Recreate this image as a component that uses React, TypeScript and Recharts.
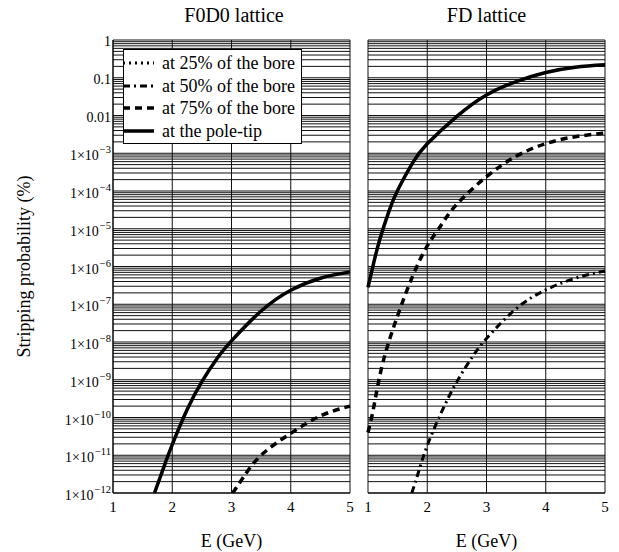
import React from 'react';
import { LineChart, Line, XAxis, YAxis, CartesianGrid } from 'recharts';

const FONT = "'Liberation Serif', 'Times New Roman', serif";

// axis ticks
const E_TICKS = [1, 2, 3, 4, 5];
const DECADES = [-12, -11, -10, -9, -8, -7, -6, -5, -4, -3, -2, -1, 0];
const MANTISSAS = [1, 2, 3, 4, 5, 6, 7, 8, 9];

// F0D0 lattice (E in GeV, stripping probability in %)
const F0D0_POLE_TIP = [
  { e: 1.7, p: 1e-12 },
  { e: 1.85, p: 4.5e-12 },
  { e: 2.0, p: 1.9e-11 },
  { e: 2.25, p: 1.6e-10 },
  { e: 2.5, p: 8.9e-10 },
  { e: 2.75, p: 3.55e-9 },
  { e: 3.0, p: 1.07e-8 },
  { e: 3.5, p: 6.6e-8 },
  { e: 4.0, p: 2.35e-7 },
  { e: 4.5, p: 4.9e-7 },
  { e: 5.0, p: 7.2e-7 },
];
const F0D0_75 = [
  { e: 3.02, p: 1e-12 },
  { e: 3.2, p: 2.6e-12 },
  { e: 3.5, p: 1.0e-11 },
  { e: 4.0, p: 3.8e-11 },
  { e: 4.5, p: 1.1e-10 },
  { e: 5.0, p: 2.0e-10 },
];

// FD lattice
const FD_POLE_TIP = [
  { e: 1.0, p: 2.8e-7 },
  { e: 1.1, p: 1.32e-6 },
  { e: 1.2, p: 5.25e-6 },
  { e: 1.35, p: 2.8e-5 },
  { e: 1.5, p: 1.05e-4 },
  { e: 1.75, p: 5.5e-4 },
  { e: 2.0, p: 1.78e-3 },
  { e: 2.5, p: 9.5e-3 },
  { e: 3.0, p: 0.035 },
  { e: 3.5, p: 0.079 },
  { e: 4.0, p: 0.138 },
  { e: 4.5, p: 0.19 },
  { e: 5.0, p: 0.22 },
];
const FD_75 = [
  { e: 1.0, p: 4.0e-11 },
  { e: 1.1, p: 2.0e-10 },
  { e: 1.25, p: 2.8e-9 },
  { e: 1.5, p: 5.0e-8 },
  { e: 1.75, p: 5.4e-7 },
  { e: 2.0, p: 3.5e-6 },
  { e: 2.25, p: 1.35e-5 },
  { e: 2.5, p: 4.5e-5 },
  { e: 3.0, p: 2.4e-4 },
  { e: 3.5, p: 8.3e-4 },
  { e: 4.0, p: 1.8e-3 },
  { e: 4.5, p: 2.75e-3 },
  { e: 5.0, p: 3.4e-3 },
];
const FD_50 = [
  { e: 1.74, p: 1e-12 },
  { e: 1.85, p: 3.5e-12 },
  { e: 2.0, p: 1.8e-11 },
  { e: 2.25, p: 1.5e-10 },
  { e: 2.5, p: 8.9e-10 },
  { e: 2.75, p: 3.8e-9 },
  { e: 3.0, p: 1.23e-8 },
  { e: 3.5, p: 7.6e-8 },
  { e: 4.0, p: 2.4e-7 },
  { e: 4.5, p: 4.9e-7 },
  { e: 5.0, p: 7.6e-7 },
];

const LEGEND_LABELS = ['at 25% of the bore', 'at 50% of the bore', 'at 75% of the bore', 'at the pole-tip'];

const STYLE_25 = { dash: '2 4', width: 3 };
const STYLE_50 = { dash: '7 4 2 4', width: 3 };
const STYLE_75 = { dash: '7 5', width: 3.5 };
const STYLE_POLE = { dash: undefined as string | undefined, width: 3.5 };
const LEGEND_STYLES = [STYLE_25, STYLE_50, STYLE_75, STYLE_POLE];

const Y_TICKS = DECADES.flatMap((d) => MANTISSAS.map((m) => m * Math.pow(10, d))).filter((v) => v <= 1.0000001);

const isDecade = (v: number) => Math.abs(Math.log10(v) - Math.round(Math.log10(v))) < 1e-6;

const YTick = (props: any) => {
  const { y, payload } = props;
  const v = payload.value;
  if (!isDecade(v)) return null;
  const n = Math.round(Math.log10(v));
  const x = 111;
  if (n >= -2) {
    const txt = n === 0 ? '1' : n === -1 ? '0.1' : '0.01';
    return (
      <text x={x} y={y + 6} textAnchor="end" fontFamily={FONT} fontSize={14} fill="#000">
        {txt}
      </text>
    );
  }
  return (
    <text x={x} y={y + 7} textAnchor="end" fontFamily={FONT} fontSize={14} fill="#000">
      1×10
      <tspan dx={1} dy={-7} fontSize={10.5}>{'\u2212' + Math.abs(n)}</tspan>
    </text>
  );
};

const NoTick = () => <g />;

const YLabel = (props: any) => {
  const vb = props.viewBox;
  const cx = 24;
  const cy = vb.y + vb.height / 2;
  return (
    <text x={cx} y={cy} textAnchor="middle" dominantBaseline="central" transform={`rotate(-90, ${cx}, ${cy})`} fontFamily={FONT} fontSize={18} fill="#000">
      Stripping probability (%)
    </text>
  );
};

const LegendBox = () => (
  <div style={{ position: 'absolute', left: 123, top: 49, background: '#fff', border: '1px solid #000', width: 179, height: 95, boxSizing: 'border-box', paddingTop: 2, fontFamily: FONT, fontSize: 18 }}>
    {LEGEND_LABELS.map((label, i) => (
      <div key={label} style={{ display: 'flex', alignItems: 'center', height: 22.5 }}>
        <svg width={32} height={10} style={{ marginLeft: -1, flex: 'none' }}>
          <line x1={0} y1={5} x2={31} y2={5} stroke="#000" strokeWidth={LEGEND_STYLES[i].width} strokeDasharray={LEGEND_STYLES[i].dash} />
        </svg>
        <span style={{ marginLeft: 7, whiteSpace: 'nowrap', lineHeight: '20px' }}>{label}</span>
      </div>
    ))}
  </div>
);

const xTick = { fontFamily: FONT, fontSize: 15, fill: '#000' };
const xLabel = { value: 'E (GeV)', position: 'insideBottom' as const, offset: 5, fontFamily: FONT, fontSize: 18, fill: '#000' };

const Title = ({ text, cx }: { text: string; cx: number }) => (
  <div style={{ position: 'absolute', top: 3, left: cx - 100, width: 200, textAlign: 'center', fontFamily: FONT, fontSize: 20, lineHeight: '24px' }}>{text}</div>
);

export default function App() {
  return (
    <div style={{ position: 'absolute', left: 0, top: 0, width: 619, height: 552, background: '#fff' }}>
      <Title text="F0D0 lattice" cx={234} />
      <Title text="FD lattice" cx={486.5} />
      <div style={{ position: 'absolute', left: 0, top: 0 }}>
        <LineChart width={360} height={552} margin={{ top: 40, right: 10, left: 0, bottom: 0 }}>
          <CartesianGrid stroke="#111" strokeWidth={1} />
          <XAxis
            type="number"
            dataKey="e"
            domain={[1, 5]}
            ticks={E_TICKS}
            height={59}
            tickLine={false}
            axisLine={{ stroke: '#000' }}
            tick={xTick}
            label={xLabel}
          />
          <YAxis
            type="number"
            scale="log"
            domain={[1e-12, 1]}
            allowDataOverflow
            ticks={Y_TICKS}
            interval={0}
            width={113}
            tickLine={false}
            axisLine={{ stroke: '#000' }}
            tick={<YTick />}
            label={<YLabel />}
          />
          <Line data={F0D0_75} dataKey="p" type="natural" stroke="#000" strokeWidth={STYLE_75.width} strokeDasharray={STYLE_75.dash} dot={false} isAnimationActive={false} />
          <Line data={F0D0_POLE_TIP} dataKey="p" type="natural" stroke="#000" strokeWidth={STYLE_POLE.width} dot={false} isAnimationActive={false} />
        </LineChart>
      </div>
      <div style={{ position: 'absolute', left: 360, top: 0 }}>
        <LineChart width={259} height={552} margin={{ top: 40, right: 14, left: 8, bottom: 0 }}>
          <CartesianGrid stroke="#111" strokeWidth={1} />
          <XAxis
            type="number"
            dataKey="e"
            domain={[1, 5]}
            ticks={E_TICKS}
            height={59}
            tickLine={false}
            axisLine={{ stroke: '#000' }}
            tick={xTick}
            label={xLabel}
          />
          <YAxis
            type="number"
            scale="log"
            domain={[1e-12, 1]}
            allowDataOverflow
            ticks={Y_TICKS}
            interval={0}
            width={0}
            tick={<NoTick />}
            tickLine={false}
            axisLine={{ stroke: '#000' }}
          />
          <Line data={FD_50} dataKey="p" type="natural" stroke="#000" strokeWidth={STYLE_50.width} strokeDasharray={STYLE_50.dash} dot={false} isAnimationActive={false} />
          <Line data={FD_75} dataKey="p" type="natural" stroke="#000" strokeWidth={STYLE_75.width} strokeDasharray={STYLE_75.dash} dot={false} isAnimationActive={false} />
          <Line data={FD_POLE_TIP} dataKey="p" type="natural" stroke="#000" strokeWidth={STYLE_POLE.width} dot={false} isAnimationActive={false} />
        </LineChart>
      </div>
      <LegendBox />
    </div>
  );
}
